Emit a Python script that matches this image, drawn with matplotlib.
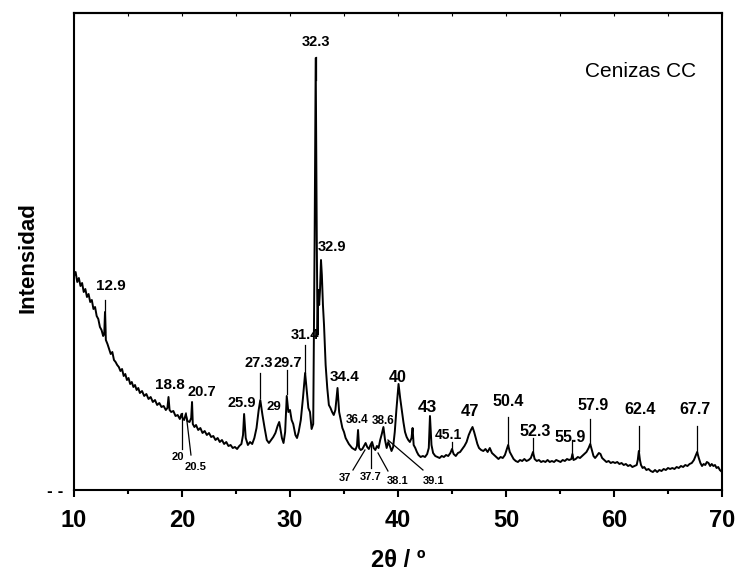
import matplotlib
matplotlib.use("Agg")
import matplotlib.pyplot as plt
from matplotlib.ticker import MultipleLocator

plt.rcParams['font.family'] = ['Liberation Sans', 'DejaVu Sans']

# XRD pattern (intensity in arbitrary units)
two_theta = [10.0, 10.15, 10.3, 10.45, 10.6, 10.75, 10.9, 11.05, 11.2, 11.35, 11.5, 11.65, 11.8, 11.95,
             12.1, 12.25, 12.4, 12.55, 12.7, 12.8, 12.87, 12.95, 13.1, 13.25, 13.4, 13.55, 13.7, 13.85,
             14.0, 14.15, 14.3, 14.45, 14.6, 14.75, 14.9, 15.05, 15.2, 15.35, 15.5, 15.65, 15.8, 15.95,
             16.1, 16.3, 16.5, 16.7, 16.9, 17.1, 17.3, 17.5, 17.7, 17.9, 18.1, 18.3, 18.5, 18.65, 18.75,
             18.85, 19.0, 19.2, 19.4, 19.6, 19.8, 19.95, 20.05, 20.2, 20.35, 20.5, 20.7, 20.85, 20.93,
             21.0, 21.15, 21.3, 21.5, 21.7, 21.9, 22.1, 22.3, 22.5, 22.7, 22.9, 23.1, 23.3, 23.5, 23.7,
             23.9, 24.1, 24.3, 24.5, 24.7, 24.9, 25.1, 25.3, 25.5, 25.65, 25.75, 25.9, 26.1, 26.3, 26.5,
             26.7, 26.9, 27.1, 27.25, 27.45, 27.65, 27.85, 28.05, 28.25, 28.45, 28.65, 28.85, 29.0, 29.1,
             29.25, 29.4, 29.55, 29.7, 29.85, 30.0, 30.15, 30.3, 30.5, 30.65, 30.8, 31.0, 31.2, 31.4,
             31.55, 31.7, 31.85, 32.0, 32.15, 32.28, 32.38, 32.48, 32.55, 32.62, 32.7, 32.78, 32.87,
             32.95, 33.05, 33.15, 33.3, 33.45, 33.6, 33.75, 33.9, 34.05, 34.2, 34.4, 34.55, 34.7, 34.85,
             35.0, 35.15, 35.3, 35.45, 35.6, 35.75, 35.9, 36.05, 36.2, 36.3, 36.4, 36.55, 36.7, 36.85,
             37.0, 37.15, 37.3, 37.45, 37.6, 37.75, 37.9, 38.05, 38.2, 38.35, 38.5, 38.65, 38.8, 38.95,
             39.1, 39.25, 39.4, 39.55, 39.7, 39.85, 40.05, 40.2, 40.35, 40.5, 40.65, 40.8, 40.95, 41.1,
             41.25, 41.35, 41.45, 41.6, 41.75, 41.9, 42.1, 42.3, 42.5, 42.7, 42.85, 42.96, 43.1, 43.25,
             43.45, 43.65, 43.85, 44.05, 44.25, 44.45, 44.65, 44.85, 45.0, 45.15, 45.35, 45.55, 45.75,
             45.95, 46.15, 46.35, 46.55, 46.75, 46.9, 47.05, 47.2, 47.35, 47.5, 47.7, 47.9, 48.1, 48.3,
             48.5, 48.7, 48.9, 49.1, 49.3, 49.5, 49.7, 49.9, 50.05, 50.2, 50.35, 50.5, 50.7, 50.9, 51.1,
             51.3, 51.5, 51.7, 51.9, 52.1, 52.3, 52.5, 52.65, 52.85, 53.05, 53.25, 53.45, 53.65, 53.85,
             54.05, 54.25, 54.45, 54.65, 54.85, 55.05, 55.25, 55.45, 55.65, 55.85, 56.05, 56.15, 56.25,
             56.45, 56.65, 56.85, 57.05, 57.25, 57.45, 57.65, 57.8, 57.95, 58.1, 58.25, 58.4, 58.6,
             58.75, 58.9, 59.1, 59.3, 59.5, 59.7, 59.9, 60.1, 60.3, 60.5, 60.7, 60.9, 61.1, 61.3, 61.5,
             61.7, 61.9, 62.1, 62.2, 62.3, 62.4, 62.5, 62.65, 62.8, 63.0, 63.2, 63.4, 63.6, 63.8, 64.0,
             64.2, 64.4, 64.6, 64.8, 65.0, 65.2, 65.4, 65.6, 65.8, 66.0, 66.2, 66.4, 66.6, 66.8, 67.0,
             67.2, 67.4, 67.55, 67.7, 67.85, 68.0, 68.15, 68.3, 68.45, 68.6, 68.75, 68.9, 69.05, 69.2,
             69.35, 69.5, 69.65, 69.8, 70.0]
intensity = [214, 218, 208, 212, 204, 207, 198, 201, 193, 196, 188, 190, 181, 183,
             174, 171, 163, 160, 154, 156, 178, 150, 146, 141, 136, 138, 130, 128,
             125, 123, 119, 121, 114, 116, 110, 112, 106, 108, 103, 105, 100, 102,
             97, 99, 94, 96, 91, 93, 88, 90, 85, 87, 83, 84, 80, 82, 93,
             80, 78, 79, 74, 75, 71, 76, 72, 70, 76, 69, 68, 72, 88,
             66, 63, 65, 60, 62, 57, 59, 55, 57, 53, 54, 50, 52, 48, 50,
             46, 48, 44, 45, 42, 43, 41, 44, 46, 55, 76, 52, 45, 48, 46,
             52, 62, 80, 90, 75, 62, 50, 47, 50, 53, 57, 64, 68, 62,
             52, 47, 58, 94, 78, 80, 70, 66, 55, 52, 58, 70, 92, 117,
             100, 82, 78, 61, 66, 250, 432, 250, 155, 200, 185, 200, 230,
             215, 185, 165, 125, 102, 85, 82, 78, 75, 80, 102, 78, 70, 62,
             58, 52, 49, 46, 44, 42, 41, 40, 44, 60, 42, 40, 41, 44,
             47, 43, 41, 45, 48, 42, 40, 44, 42, 50, 56, 63, 50, 42,
             48, 44, 39, 43, 58, 80, 106, 92, 80, 68, 58, 53, 50, 48,
             52, 62, 45, 42, 38, 35, 33, 34, 33, 36, 42, 74, 45, 37,
             34, 33, 32, 34, 33, 35, 34, 37, 41, 36, 34, 37, 38,
             41, 44, 48, 55, 60, 63, 58, 52, 46, 42, 40, 39, 41, 38,
             42, 37, 35, 33, 31, 33, 32, 35, 40, 45, 38, 35, 31, 29, 28,
             30, 29, 31, 29, 30, 32, 38, 31, 29, 30, 28, 29, 28, 30,
             28, 29, 28, 30, 29, 28, 30, 29, 31, 30, 31, 36, 30,
             31, 33, 32, 34, 36, 38, 42, 46, 40, 34, 32, 34, 37,
             36, 32, 30, 28, 29, 27, 28, 27, 28, 26, 27, 25, 26, 24, 25,
             23, 24, 25, 30, 39, 30, 25, 22, 23, 20, 21, 19, 18, 20, 18,
             20, 19, 21, 20, 22, 21, 22, 21, 23, 22, 24, 23, 25, 24, 26,
             27, 30, 34, 38, 32, 27, 24, 26, 25, 28, 27, 24, 26, 24,
             25, 22, 23, 20, 18]

# peak labels: text, text position (2theta, intensity), font size, leader line
peak_labels = ['12.9', '18.8', '20.7', '20', '20.5', '25.9', '27.3', '29', '29.7', '31.4',
               '32.3', '32.9', '34.4', '36.4', '38.6', '40', '43', '45.1', '47', '50.4',
               '52.3', '55.9', '57.9', '62.4', '67.7', '37', '37.7', '38.1', '39.1']
label_pos = [(13.43, 204), (18.89, 105), (21.85, 98), (19.63, 33), (21.3, 23), (25.56, 87),
             (27.13, 127), (28.52, 83), (29.81, 127), (31.39, 155), (32.41, 448), (33.89, 243),
             (35.09, 113), (36.2, 70), (38.6, 69), (40.0, 113), (42.69, 82), (44.63, 55),
             (46.67, 78), (50.19, 88), (52.69, 58), (55.93, 53), (58.06, 85), (62.4, 80),
             (67.5, 80), (35.09, 12), (37.45, 13), (40.0, 9), (43.33, 9)]
label_size = [11, 11, 10.5, 8, 8, 10.5, 10.5, 9.5, 10.5, 10.5, 10.5, 10.5, 11, 8.5, 8.5, 11.5,
              12.5, 10, 12, 11.5, 11.5, 11.5, 11.5, 11.5, 11.5, 8, 8, 8, 8]
leaders = [((12.87, 190), (12.87, 158)), None, None, ((19.98, 41), (19.98, 77)),
           ((20.83, 35), (20.37, 77)), None, ((27.22, 117), (27.22, 92)), None,
           ((29.72, 120), (29.72, 96)), ((31.39, 145), (31.39, 117)), ((32.38, 433), (32.38, 410)),
           None, None, None, None, None, None, ((45.0, 48), (45.0, 40)), None,
           ((50.2, 73), (50.2, 45)), ((52.5, 52), (52.5, 38)), ((56.1, 50), (56.1, 33)),
           ((57.8, 71), (57.8, 46)), ((62.3, 64), (62.3, 39)), ((67.7, 64), (67.7, 38)),
           ((35.83, 20), (36.94, 40)), ((37.5, 22), (37.5, 45)), ((39.07, 19), (38.15, 37)),
           ((42.31, 20), (39.07, 50))]

fig = plt.figure(figsize=(7.38, 5.72), dpi=100)
ax = fig.add_axes([74 / 738, 82 / 572, 648 / 738, 477 / 572])
ax.plot(two_theta, intensity, color='black', lw=1.4)

for txt, (x, y), fs, ld in zip(peak_labels, label_pos, label_size, leaders):
    ax.text(x, y, txt, fontsize=fs, fontweight='bold', ha='center', va='center')
    if ld is not None:
        ax.plot([ld[0][0], ld[1][0]], [ld[0][1], ld[1][1]], color='black', lw=0.9)

ax.text(0.875, 0.877, 'Cenizas CC', transform=ax.transAxes, fontsize=15,
        ha='center', va='center')

ax.set_xlim(10, 70)
ax.set_ylim(0, 477)
ax.xaxis.set_major_locator(MultipleLocator(10))
ax.xaxis.set_minor_locator(MultipleLocator(5))
ax.tick_params(axis='x', which='major', direction='out', length=5, width=1.5,
               labelsize=17, pad=9)
ax.tick_params(axis='x', which='minor', direction='out', length=3, width=1.5)
for lab in ax.get_xticklabels():
    lab.set_fontweight('bold')
ax.set_yticks([0])
ax.set_yticklabels(['- -'], fontsize=10, fontweight='bold', family='DejaVu Sans')
ax.tick_params(axis='y', length=0, pad=8)

top = ax.secondary_xaxis('top')
top.xaxis.set_major_locator(MultipleLocator(10))
top.xaxis.set_minor_locator(MultipleLocator(5))
top.tick_params(which='both', direction='in', length=2, width=0.8, labeltop=False)

for s in ax.spines.values():
    s.set_linewidth(1.5)
top.spines['top'].set_linewidth(1.5)

ax.set_xlabel('2θ / º', fontsize=17, fontweight='bold', labelpad=12)
fig.text(28 / 738, 1 - 258 / 572, 'Intensidad', rotation=90, fontsize=16,
         fontweight='bold', ha='center', va='center')

fig.savefig('out.png', dpi=100)
